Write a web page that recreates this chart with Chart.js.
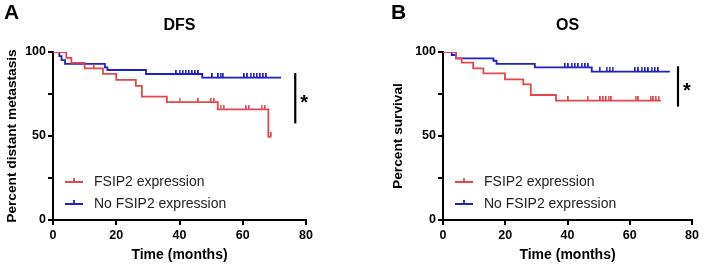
<!DOCTYPE html>
<html>
<head>
<meta charset="utf-8">
<script src="https://cdn.jsdelivr.net/npm/chart.js@4.4.1/dist/chart.umd.min.js"></script>
<style>
  body { margin: 0; background: #fff; }
  .panel { position: absolute; top: 0; width: 352px; height: 267px; }
</style>
</head>
<body>
<div class="panel" style="left:0"><canvas id="dfsChart" width="352" height="267"></canvas></div>
<div class="panel" style="left:352px"><canvas id="osChart" width="352" height="267"></canvas></div>
<script>
// ---- data ----
const seriesLabels = ['FSIP2 expression', 'No FSIP2 expression'];

// DFS panel
const dfsFsipTimes  = [0, 4.2, 5.8, 10, 15.8, 20, 26.2, 28.1, 36, 52.1, 68.1, 69];
const dfsFsipSurv   = [100, 96.5, 93.5, 90.3, 87, 83.4, 79.8, 73.4, 70.2, 65.9, 49.5, 49.5];
const dfsFsipCensor = [13, 40, 46, 50, 51, 53, 54, 61, 62, 66, 67, 69];

const dfsNoTimes  = [0, 2, 2.7, 3.8, 16.4, 17.2, 29.4, 47.2, 72.1];
const dfsNoSurv   = [100, 97.6, 95.2, 92.9, 90.9, 89.3, 86.9, 84.7, 84.7];
const dfsNoCensor = [39, 40, 41, 42, 43, 44, 45, 46, 50.4, 52.3, 53, 53.8,
                     60.5, 61.5, 62.5, 63.5, 64.5, 65.5, 66.5, 67.5];

// OS panel
const osFsipTimes  = [0, 4.2, 6, 9.7, 13, 19.9, 25.8, 28.2, 36.3, 70];
const osFsipSurv   = [100, 96.2, 93.7, 90.3, 87.3, 83.7, 80.7, 74.4, 71, 71];
const osFsipCensor = [40.3, 46.5, 50.6, 51.5, 52.4, 53.2, 54.1, 61.9, 62.8, 66.7, 67.6, 68.4, 69.3];

const osNoTimes  = [0, 2.8, 4.2, 16.2, 17.2, 29.5, 47.8, 72.9];
const osNoSurv   = [100, 98.2, 96.2, 94.8, 92.9, 90.9, 88.3, 88.3];
const osNoCensor = [39.2, 40.3, 41.4, 42.4, 43.5, 44.6, 45.7, 46.7, 50.4, 52.6, 53.6, 54.5,
                    61.7, 62.8, 63.8, 64.9, 66, 67, 68.1, 69.2];

const xTicks = [0, 20, 40, 60, 80];
const yTicks = [0, 25, 50, 75, 100];
const yLabelled = [0, 50, 100];

const RED = '#e3464c';
const BLUE = '#1f1fc2';
const FONT = "'Liberation Sans', Arial, sans-serif";

function survAt(times, surv, t) {
    let v = surv[0];
    for (let i = 0; i < times.length; i++) {
        if (times[i] <= t) v = surv[i];
    }
    return v;
}

// small upward tick used as censor mark
function makeTick(color) {
    const c = document.createElement('canvas');
    c.width = 2;
    c.height = 9;
    const g = c.getContext('2d');
    g.fillStyle = color;
    g.fillRect(0, 0, 1.6, 4.5);
    return c;
}

function kmDatasets(label, times, surv, censor, color) {
    return [
        {
            label: label,
            data: times.map((t, i) => ({x: t, y: surv[i]})),
            borderColor: color,
            borderWidth: 1.8,
            stepped: 'before',
            pointRadius: 0,
            fill: false
        },
        {
            label: label + ' censored',
            data: censor.map(t => ({x: t, y: survAt(times, surv, t)})),
            showLine: false,
            pointStyle: makeTick(color),
            pointRadius: 3,
            isCensor: true
        }
    ];
}

const annotPlugin = {
    id: 'annot',
    afterDraw(chart, args, opts) {
        const ctx = chart.ctx;
        const area = chart.chartArea;
        const xs = chart.scales.x;
        const ys = chart.scales.y;
        ctx.save();
        ctx.fillStyle = '#000';
        // panel letter
        ctx.font = 'bold 21px ' + FONT;
        ctx.textAlign = 'left';
        ctx.textBaseline = 'middle';
        ctx.fillText(opts.letter, opts.letterX, 13);
        // title
        ctx.font = 'bold 16px ' + FONT;
        ctx.textAlign = 'center';
        ctx.fillText(opts.title, (area.left + area.right) / 2, 26);
        // significance bar
        const bx = xs.getPixelForValue(opts.sigX);
        ctx.strokeStyle = '#000';
        ctx.lineWidth = 2.2;
        ctx.beginPath();
        ctx.moveTo(bx, ys.getPixelForValue(opts.sigTop));
        ctx.lineTo(bx, ys.getPixelForValue(opts.sigBottom));
        ctx.stroke();
        ctx.font = 'bold 20px ' + FONT;
        ctx.textAlign = 'left';
        ctx.fillText('*', bx + 5, (ys.getPixelForValue(opts.sigTop) + ys.getPixelForValue(opts.sigBottom)) / 2 + 5);
        // legend
        const lines = chart.data.datasets.filter(d => !d.isCensor);
        ctx.font = '14px ' + FONT;
        lines.forEach((d, i) => {
            const y = opts.legendY + i * 22;
            const x0 = area.left + opts.legendX;
            ctx.strokeStyle = d.borderColor;
            ctx.lineWidth = 1.8;
            ctx.beginPath();
            ctx.moveTo(x0, y);
            ctx.lineTo(x0 + 18, y);
            ctx.moveTo(x0 + 9, y);
            ctx.lineTo(x0 + 9, y - 4);
            ctx.stroke();
            ctx.fillStyle = '#222';
            ctx.fillText(d.label, x0 + 29, y);
        });
        ctx.restore();
    }
};

function makeChart(canvasId, datasets, yTitle, yTitlePad, rightPad, yWidth, annot) {
    return new Chart(document.getElementById(canvasId), {
        type: 'line',
        data: {datasets: datasets},
        options: {
            responsive: false,
            animation: false,
            layout: {padding: {left: 0, top: 52, right: rightPad, bottom: 0}},
            plugins: {
                legend: {display: false},
                tooltip: {enabled: false},
                annot: annot
            },
            scales: {
                x: {
                    type: 'linear',
                    min: 0,
                    max: 80,
                    afterBuildTicks: s => { s.ticks = xTicks.map(v => ({value: v})); },
                    afterFit: s => { s.height = 47; },
                    border: {display: true, color: '#000', width: 2},
                    grid: {drawOnChartArea: false, tickLength: 5, tickColor: '#000', lineWidth: 2},
                    ticks: {color: '#000', padding: 3, maxRotation: 0, font: {family: FONT, size: 12.5, weight: 'bold'}},
                    title: {display: true, text: 'Time (months)', color: '#000', padding: {bottom: 3},
                            font: {family: FONT, size: 14, weight: 'bold'}}
                },
                y: {
                    type: 'linear',
                    min: 0,
                    max: 100,
                    afterBuildTicks: s => { s.ticks = yTicks.map(v => ({value: v})); },
                    afterFit: s => { s.width = yWidth; },
                    border: {display: true, color: '#000', width: 2},
                    grid: {drawOnChartArea: false, tickLength: 5, tickColor: '#000', lineWidth: 2},
                    ticks: {
                        color: '#000', padding: 2,
                        font: {family: FONT, size: 12.5, weight: 'bold'},
                        callback: v => yLabelled.includes(v) ? String(v) : ''
                    },
                    title: {display: true, text: yTitle, color: '#000', padding: {top: yTitlePad},
                            font: {family: FONT, size: 13.7, weight: 'bold'}}
                }
            }
        },
        plugins: [annotPlugin]
    });
}

makeChart('dfsChart',
    kmDatasets(seriesLabels[0], dfsFsipTimes, dfsFsipSurv, dfsFsipCensor, RED)
        .concat(kmDatasets(seriesLabels[1], dfsNoTimes, dfsNoSurv, dfsNoCensor, BLUE)),
    'Percent distant metastasis', 4.5, 46, 53,
    {letter: 'A', letterX: 4, title: 'DFS', sigX: 76.6, sigTop: 87.5, sigBottom: 57.5,
     legendX: 12, legendY: 182});

makeChart('osChart',
    kmDatasets(seriesLabels[0], osFsipTimes, osFsipSurv, osFsipCensor, RED)
        .concat(kmDatasets(seriesLabels[1], osNoTimes, osNoSurv, osNoCensor, BLUE)),
    'Percent survival', 38.5, 12, 91,
    {letter: 'B', letterX: 39, title: 'OS', sigX: 75.5, sigTop: 91.5, sigBottom: 67.5,
     legendX: 12, legendY: 182});
</script>
</body>
</html>
